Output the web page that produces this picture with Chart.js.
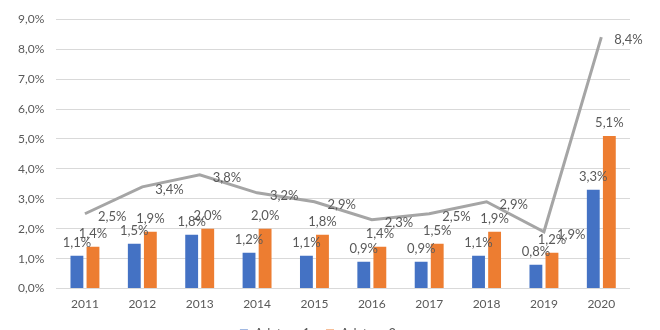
<!DOCTYPE html>
<html>
<head>
<meta charset="utf-8">
<script src="https://cdn.jsdelivr.net/npm/chart.js@4/dist/chart.umd.min.js"></script>
<style>
  html, body { margin: 0; padding: 0; background: #fff; overflow: hidden; }
  #wrap { width: 660px; height: 350px; position: relative; }
</style>
</head>
<body>
<div id="wrap"><canvas id="chart1"></canvas></div>
<script>
const years = ['2011', '2012', '2013', '2014', '2015', '2016', '2017', '2018', '2019', '2020'];
const blueValues = [1.1, 1.5, 1.8, 1.2, 1.1, 0.9, 0.9, 1.1, 0.8, 3.3];
const orangeValues = [1.4, 1.9, 2.0, 2.0, 1.8, 1.4, 1.5, 1.9, 1.2, 5.1];
const lineValues = [2.5, 3.4, 3.8, 3.2, 2.9, 2.3, 2.5, 2.9, 1.9, 8.4];
const seriesNames = ['Adatsor 1', 'Adatsor 2', 'Adatsor 3'];

const fmt = v => v.toFixed(1).replace('.', ',') + '%';

// draws the value labels (no datalabels plugin available offline)
const valueLabels = {
  id: 'valueLabels',
  afterDatasetsDraw(chart) {
    const ctx = chart.ctx;
    ctx.save();
    ctx.font = '13px Lato, "Open Sans", sans-serif';
    ctx.fillStyle = '#595959';
    ctx.textBaseline = 'middle';
    chart.data.datasets.forEach((ds, i) => {
      const meta = chart.getDatasetMeta(i);
      meta.data.forEach((el, j) => {
        const txt = fmt(ds.data[j]);
        if (ds.type === 'line') {
          ctx.textAlign = 'left';
          ctx.fillText(txt, el.x + 13, el.y + 3);
        } else {
          ctx.textAlign = 'center';
          ctx.fillText(txt, el.x, el.y - 13);
        }
      });
    });
    ctx.restore();
  }
};

const ctx1 = document.getElementById('chart1').getContext('2d');

new Chart(ctx1, {
  data: {
    labels: years,
    datasets: [
      {
        type: 'line',
        label: seriesNames[2],
        data: lineValues,
        borderColor: '#A5A5A5',
        borderWidth: 3,
        pointRadius: 0,
        tension: 0,
        order: 0
      },
      {
        type: 'bar',
        label: seriesNames[0],
        data: blueValues,
        backgroundColor: '#4472C4',
        barPercentage: 0.8,
        categoryPercentage: 0.56,
        order: 1
      },
      {
        type: 'bar',
        label: seriesNames[1],
        data: orangeValues,
        backgroundColor: '#ED7D31',
        barPercentage: 0.8,
        categoryPercentage: 0.56,
        order: 1
      }
    ]
  },
  options: {
    responsive: true,
    maintainAspectRatio: false,
    animation: false,
    layout: { padding: { top: 18, right: 30, left: 6, bottom: 0 } },
    plugins: {
      legend: {
        display: true,
        position: 'bottom',
        labels: {
          boxWidth: 8,
          boxHeight: 8,
          padding: 16,
          color: '#595959',
          font: { size: 13, family: 'Lato, "Open Sans", sans-serif' },
          filter: item => item.datasetIndex !== 0
        }
      },
      tooltip: { enabled: false }
    },
    scales: {
      x: {
        grid: { display: false },
        border: { display: false },
        ticks: { padding: 0, color: '#595959', font: { size: 12, family: 'Lato, "Open Sans", sans-serif' } }
      },
      y: {
        min: 0,
        max: 9,
        grid: { color: '#D9D9D9', drawTicks: false },
        border: { display: false },
        ticks: {
          stepSize: 1,
          padding: 12,
          color: '#595959',
          font: { size: 12, family: 'Lato, "Open Sans", sans-serif' },
          callback: v => fmt(v)
        }
      }
    }
  },
  plugins: [valueLabels]
});
</script>
</body>
</html>
